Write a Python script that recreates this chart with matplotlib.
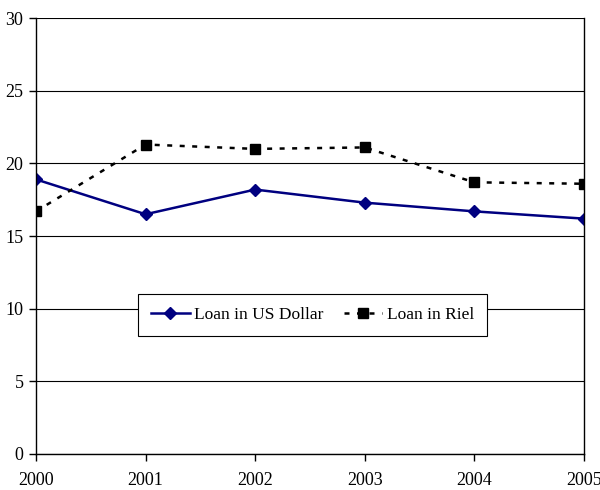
import matplotlib.pyplot as plt

years = [2000, 2001, 2002, 2003, 2004, 2005]
usd = [18.9, 16.5, 18.2, 17.3, 16.7, 16.2]
riel = [16.7, 21.3, 21.0, 21.1, 18.7, 18.6]

plt.rcParams['font.family'] = ['Liberation Serif', 'DejaVu Serif']

fig = plt.figure(figsize=(6, 4.9), dpi=100)
ax = fig.add_axes([0.06, 0.0735, 0.913, 0.8895])

ax.plot(years, usd, color='#000080', lw=1.8, marker='D', ms=6,
        label='Loan in US Dollar')
ax.plot(years, riel, color='black', lw=1.8, ls=(0, (2, 3)), marker='s', ms=7,
        label='Loan in Riel')

ax.set_xlim(2000, 2005)
ax.set_ylim(0, 30)
ax.set_yticks(range(0, 31, 5))
ax.set_xticks(years)
ax.yaxis.grid(True, color='black', lw=0.8)
ax.set_axisbelow(True)
ax.spines['top'].set_visible(False)
for s in ['left', 'right', 'bottom']:
    ax.spines[s].set_linewidth(1.0)
ax.tick_params(axis='both', labelsize=13, direction='out', length=5, width=1)
ax.tick_params(axis='x', pad=8)
ax.tick_params(axis='y', pad=4)

leg = ax.legend(loc='center', bbox_to_anchor=(0.505, 0.319), ncol=2,
                fontsize=12.5, frameon=True, fancybox=False, edgecolor='black',
                framealpha=1, handlelength=2.2, handletextpad=0.25,
                columnspacing=1.2, borderpad=0.75, borderaxespad=0)
leg.get_frame().set_linewidth(0.8)

fig.savefig('out.png', dpi=100)
